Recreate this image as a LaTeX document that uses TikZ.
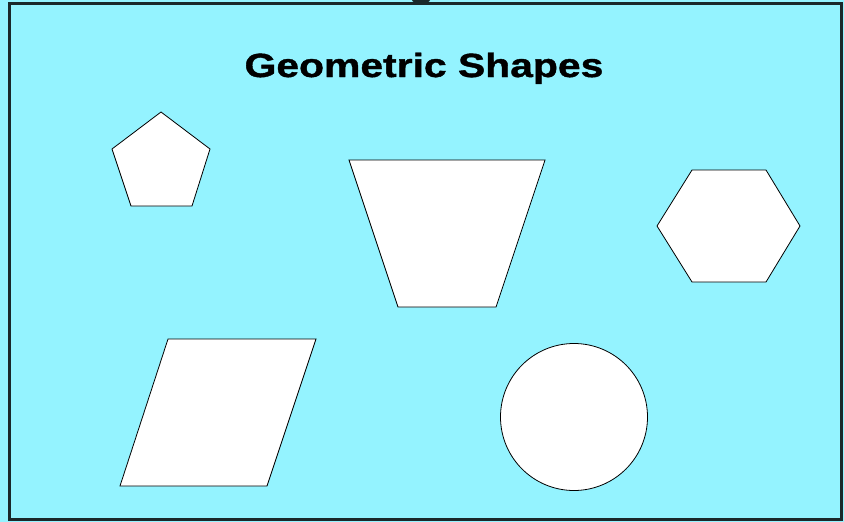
\documentclass[tikz,border=0pt]{standalone}
\usepackage{fontspec}
\setmainfont{Liberation Sans}
\newfontfamily\headfont{Liberation Sans}[BoldFeatures={FakeStretch=1.22,FakeBold=1.2}]
\usepackage{tikz}
\definecolor{skyback}{RGB}{148,243,255}
\definecolor{framegray}{RGB}{26,40,42}
\tikzset{every picture/.style={x=1pt,y=-1pt}}
\tikzset{figure/.style = {draw=black,fill=white,line width=0.8pt,line join=miter}}
\tikzset{outline/.style = {draw=framegray,line width=3pt}}
\tikzset{headline/.style = {font=\headfont\bfseries\fontsize{33.5}{40}\selectfont,inner sep=0pt,anchor=base}}

\begin{document}
\begin{tikzpicture}
\fill[skyback] (0,0) rectangle (844,522);
\useasboundingbox (0,0) rectangle (844,522);
\draw[outline] (9.5,3.5) rectangle (841.5,519.5);
% clipped piece of a letter above the frame
\fill[framegray] (421,0) ellipse (9 and 3.5);
\node[headline] (head) at (424,77) {Geometric Shapes};
%
\draw[figure] (161,112) -- (210,149) -- (192,206) -- (131,206) -- (112,149) -- cycle;
\draw[figure] (349,160) -- (545,160) -- (496,307) -- (398,307) -- cycle;
\draw[figure] (657,226) -- (692,170) -- (766,170) -- (800,226) -- (766,282) -- (692,282) -- cycle;
\draw[figure] (168,339) -- (316,339) -- (267,486) -- (120,486) -- cycle;
\draw[figure] (574,417) circle (73.5);
\end{tikzpicture}
\end{document}
